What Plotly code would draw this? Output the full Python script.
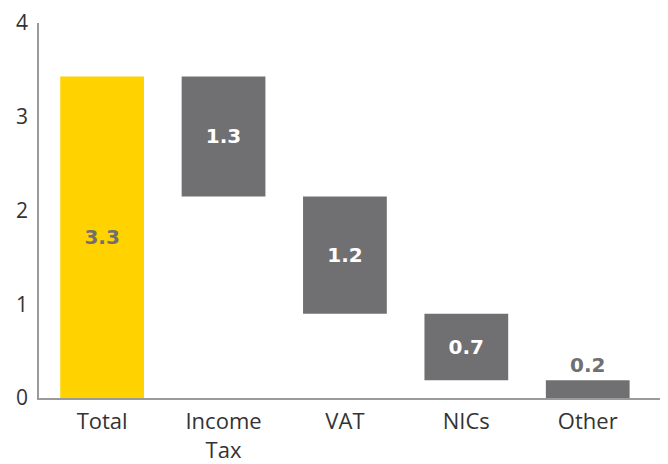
import plotly.graph_objects as go

categories = ["Total", "Income<br>Tax", "VAT", "NICs", "Other"]
values = [3.43, 1.28, 1.25, 0.71, 0.20]
labels = ["3.3", "1.3", "1.2", "0.7", "0.2"]
y_ticks = [0, 1, 2, 3, 4]

# floating bases: total from zero, components step down
bases = [0]
running = values[0]
for v in values[1:]:
    running -= v
    bases.append(running)

YELLOW = "#FFD200"
GREY = "#707072"
colors = [YELLOW] + [GREY] * (len(values) - 1)
text_colors = [GREY, "white", "white", "white", GREY]
positions = ["inside", "inside", "inside", "inside", "outside"]

fig = go.Figure(go.Bar(
    x=list(range(len(categories))),
    y=values,
    base=bases,
    marker=dict(color=colors, line=dict(width=0)),
    text=labels,
    textposition=positions,
    insidetextanchor="middle",
    textfont=dict(family="DejaVu Sans", size=20, color=text_colors, weight="bold"),
    constraintext="none",
    cliponaxis=False,
    width=0.69,
    hoverinfo="skip",
))

# page body has an 8px margin, so the figure is sized to fit the window
fig.update_layout(
    width=660, height=456,
    margin=dict(l=31, r=5, t=15, b=66),
    paper_bgcolor="white", plot_bgcolor="white",
    showlegend=False,
    font=dict(family="Open Sans", color="#333333", size=20),
    xaxis=dict(
        tickmode="array", tickvals=list(range(len(categories))), ticktext=categories,
        range=[-0.52, 4.62], showgrid=False, zeroline=False,
        showline=True, linecolor="#9a9a9a", linewidth=1.5,
        tickfont=dict(family="Open Sans", size=22, color="#333333"), ticks="",
        ticklabelstandoff=3, automargin=False,
    ),
    yaxis=dict(
        range=[0, 4], tickvals=y_ticks, showgrid=False, zeroline=False,
        showline=True, linecolor="#9a9a9a", linewidth=1.5,
        tickfont=dict(family="Open Sans", size=21, color="#333333"), ticks="",
        ticklabelstandoff=5, automargin=False,
    ),
)

fig.write_html("out.html")
